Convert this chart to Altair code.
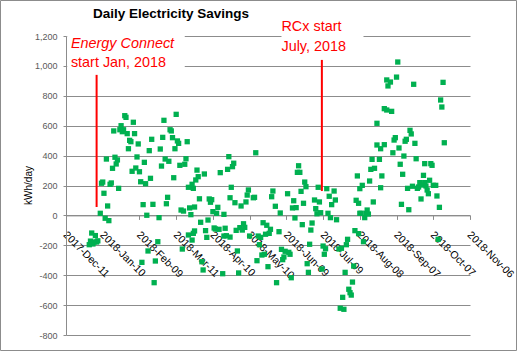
import altair as alt
import pandas as pd

# ---------------- data ----------------
dec_day = [30, 31]
dec_kwh = [-196, -172]

jan_day = [1, 2, 3, 4, 5, 6, 8, 9, 10, 11, 12, 13, 14, 15, 16, 17, 18, 19, 20, 21,
           22, 23, 24, 25, 26, 27, 28, 29, 30, 31]
jan_kwh = [-118, -191, -178, -135, -178, -170, 14, 215, 223, 148, -19, 377, 63, -35,
           208, 217, 315, 565, 389, 344, 371, 181, 573, 600, 560, 573, 667, 656, 547, 446]

feb_day = [1, 2, 3, 4, 5, 6, 7, 8, 9, 10, 11, 12, 13, 14, 15, 16, 17, 18, 19, 20,
           21, 22, 24, 25, 26, 27, 28]
feb_kwh = [502, 493, 295, 623, 547, 317, 391, 478, 292, 225, -314, 72, 355, 212, 1,
           -238, 433, 248, 509, 74, -450, -305, -176, -15, 444, 330, 522]

mar_day = [1, 2, 3, 4, 5, 6, 7, 8, 9, 10, 11, 12, 13, 14, 15, 16, 17, 18, 19, 20,
           21, 21, 22, 23, 24, 24, 25, 25, 26, 26, 27, 28, 29, 30, 31]
mar_kwh = [636, 377, 78, 121, 362, 573, 565, 520, 252, 446, 676, 498, 482, 335, 36,
           -225, 29, 342, 379, 493, 188, -131, 50, 5, 208, -165, -120, 181, 56, -104,
           237, 303, 259, 111, -46]

apr_day = [1, 2, 3, 4, 5, 6, 7, 8, 9, 10, 11, 12, 13, 14, 15, 16, 18, 19, 19, 20,
           21, 22, 23, 24, 24, 25, 26, 27, 28, 29, 30]
apr_kwh = [-310, -365, 277, -102, -147, -31, 110, 88, 105, 25, -84, -91, 14, 54, -93,
           286, -390, 7, -138, -86, -136, 308, 393, 118, -145, 188, 326, 349, 85, -100, -238]

may_day = [1, 2, 3, 4, 5, 6, 7, 8, 9, 10, 13, 14, 15, 16, 17, 18, 19, 20, 21, 22,
           23, 24, 25, 26, 27, 28, 29, 31]
may_kwh = [-385, -82, 63, -98, -56, -80, 90, 136, 170, -138, 118, 121, 419, -303,
           -138, -196, -147, -265, -49, -260, -126, -66, -343, -120, -93, 125, 163, 61]

jun_day = [1, 3, 4, 5, 6, 7, 8, 10, 11, 12, 13, 14, 15, 16, 17, 18, 19, 20, 21, 22,
           23, 24, 25, 26, 27, 28, 29, 30]
jun_kwh = [-450, -109, 16, -227, -296, -278, -240, 145, -247, -260, -417, 50, 98, -17,
           52, 288, 332, 288, 161, -62, 81, 223, 192, -323, -381, -193, -98, -51]

jul_day = [2, 3, 4, 5, 6, 7, 8, 9, 10, 11, 12, 13, 14, 15, 16, 18, 19, 20, 22, 23,
           24, 25, 26, 27, 28, 29, 30, 31]
jul_kwh = [103, 45, 11, 188, 90, 18, -359, -205, -260, -223, 179, 14, 128, -15, 72,
           163, 103, -29, -225, -621, -220, -548, -628, -381, -196, -160, -494, -517]

aug_day = [1, 2, 3, 4, 5, 6, 7, 7, 8, 8, 9, 10, 11, 12, 13, 14, 15, 16, 17, 18,
           19, 20, 22, 22, 24, 25, 25, 26, 28, 28, 30, 30, 31]
aug_kwh = [-533, -446, -339, -102, 101, 264, 81, -122, 14, 179, 14, 201, -176, -15,
           14, 36, 9, 230, 308, 375, 90, 315, 471, 616, 375, 446, 185, 264, 473, 714,
           705, 906, 866]

sep_day = [2, 3, 4, 5, 6, 7, 8, 9, 10, 11, 12, 13, 14, 15, 16, 17, 18, 19, 20, 21,
           22, 23, 24, 25, 26, 27, 28, 29, 30, 30]
sep_kwh = [892, 696, 419, 504, 520, 925, 1026, 451, 342, 74, 275, 397, 496, 509, 181,
           38, 569, 545, 195, 877, 482, 379, 181, 190, 219, 110, 203, 268, 346, 219]

oct_day = [1, 2, 3, 4, 5, 6, 7, 9, 10, 11, 12, 13, 14, 15, 16]
oct_kwh = [197, 170, 145, 235, 346, 335, 201, 201, 130, -160, 54, 772, 725, 890, 486]

tick_dates = ["2017-12-11", "2018-01-10", "2018-02-09", "2018-03-11", "2018-04-10",
              "2018-05-10", "2018-06-09", "2018-07-09", "2018-08-08", "2018-09-07",
              "2018-10-07", "2018-11-06"]
y_ticks = [-800, -600, -400, -200, 0, 200, 400, 600, 800, 1000, 1200]

# annotations
rule_date = ["2018-01-05", "2018-07-08"]
rule_lo = [56, 163]
rule_hi = [940, 1040]

box_start = ["2017-12-12", "2018-06-05"]
box_end = ["2018-03-18", "2018-08-11"]
box_lo = [960, 1150]
box_hi = [1240, 1260]

ital_text = ["Energy Connect"]
ital_date = ["2017-12-15"]
ital_kwh = [1118]

ann_text = ["start Jan, 2018", "RCx start", "July, 2018"]
ann_date = ["2017-12-15", "2018-06-05", "2018-06-05"]
ann_kwh = [995, 1236, 1102]

title_text = "Daily Electricity Savings"
y_title = "kWh/day"

# ---------------- build tables ----------------
months = [("2017-12", dec_day, dec_kwh), ("2018-01", jan_day, jan_kwh),
          ("2018-02", feb_day, feb_kwh), ("2018-03", mar_day, mar_kwh),
          ("2018-04", apr_day, apr_kwh), ("2018-05", may_day, may_kwh),
          ("2018-06", jun_day, jun_kwh), ("2018-07", jul_day, jul_kwh),
          ("2018-08", aug_day, aug_kwh), ("2018-09", sep_day, sep_kwh),
          ("2018-10", oct_day, oct_kwh)]
rows = []
for m, days, vals in months:
    for d, v in zip(days, vals):
        rows.append({"date": f"{m}-{d:02d}", "kwh": v})
df = pd.DataFrame(rows)


def ms(s):
    return int(pd.Timestamp(s, tz="UTC").value // 10**6)


tick_ms = [ms(t) for t in tick_dates]

W, H = 404, 299
FONT = "Liberation Sans"
GRID = "#8c8c8c"

xscale = alt.Scale(type="utc", domain=[tick_ms[0], tick_ms[-1]], nice=False)
yscale = alt.Scale(domain=[y_ticks[0], y_ticks[-1]], nice=False)

zero_from_bottom = H * (0 - y_ticks[0]) / (y_ticks[-1] - y_ticks[0])

xaxis = alt.Axis(values=tick_ms, labelExpr="utcFormat(datum.value, '%Y-%b-%d')",
                 labelAngle=45, labelAlign="left", labelBaseline="top",
                 labelFont=FONT, labelFontSize=10.5, labelColor="#000000",
                 labelPadding=10, labelOffset=2, labelOverlap=False, labelFlush=False,
                 labelBound=False,
                 tickSize=4, tickColor=GRID, domainColor=GRID, grid=False,
                 offset=-zero_from_bottom, title=None)

yaxis = alt.Axis(values=y_ticks,
                 labelExpr="(datum.value < 0 ? '-' : '') + format(abs(datum.value), ',')",
                 labelFont=FONT, labelFontSize=9, labelColor="#595959", labelPadding=6,
                 tickSize=3, tickColor=GRID, domainColor=GRID,
                 grid=True, gridColor=GRID, gridWidth=1,
                 title=y_title, titleFont=FONT, titleFontSize=10, titleFontWeight="normal",
                 titleColor="#000000", titleAngle=270, titleX=-38, titleY=149,
                 titleAlign="center", titleBaseline="middle")


def X():
    return alt.X("date:T", scale=xscale, axis=xaxis, title=None)


def Y():
    return alt.Y("kwh:Q", scale=yscale, axis=yaxis, title=y_title)


points = alt.Chart(df).mark_square(size=28, color="#00B050", opacity=1).encode(
    x=X(), y=Y())

boxes = alt.Chart(pd.DataFrame({"date": box_start, "date2": box_end,
                                "kwh": box_lo, "kwh2": box_hi})).mark_rect(
    color="white", opacity=1).encode(x=X(), x2="date2:T", y=Y(), y2="kwh2:Q")

rules = alt.Chart(pd.DataFrame({"date": rule_date, "kwh": rule_lo, "kwh2": rule_hi})).mark_rule(
    color="#FF0000", strokeWidth=2).encode(x=X(), y=Y(), y2="kwh2:Q")

ital = alt.Chart(pd.DataFrame({"date": ital_date, "kwh": ital_kwh, "t": ital_text})).mark_text(
    align="left", baseline="alphabetic", font=FONT, fontSize=14.4, fontStyle="italic",
    color="#FF0000").encode(x=X(), y=Y(), text="t:N")

ann = alt.Chart(pd.DataFrame({"date": ann_date, "kwh": ann_kwh, "t": ann_text})).mark_text(
    align="left", baseline="alphabetic", font=FONT, fontSize=14.4,
    color="#FF0000").encode(x=X(), y=Y(), text="t:N")

title = alt.Chart(pd.DataFrame({"t": [title_text]})).mark_text(
    align="left", baseline="alphabetic", font=FONT, fontSize=13.5, fontWeight="bold",
    color="#000000").encode(text="t:N", x=alt.value(27), y=alt.value(-18.5))

border = alt.Chart(pd.DataFrame({"k": [0]})).mark_rect(
    fill="transparent", stroke="#8c8c8c", strokeWidth=1).encode(
    x=alt.value(-65.5), x2=alt.value(450.5), y=alt.value(-35.5), y2=alt.value(314.5))

chart = alt.layer(points, boxes, rules, ital, ann, title, border).properties(
    width=W, height=H,
    padding={"left": 66, "top": 36, "right": 48, "bottom": 17},
    autosize=alt.AutoSizeParams(type="none"),
    background="white",
).configure_view(stroke="transparent")

chart.save("out.html", embed_options={"renderer": "svg", "actions": False})
